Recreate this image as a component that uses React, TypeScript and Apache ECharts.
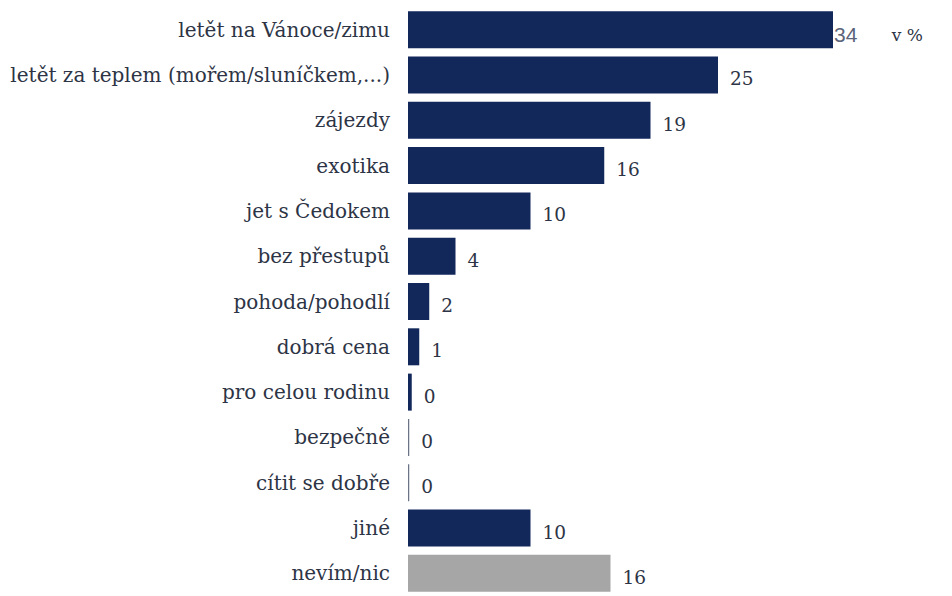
import React, { useEffect, useRef } from "react";
import * as echarts from "echarts";

const categories = [
  "letět na Vánoce/zimu",
  "letět za teplem (mořem/sluníčkem,...)",
  "zájezdy",
  "exotika",
  "jet s Čedokem",
  "bez přestupů",
  "pohoda/pohodlí",
  "dobrá cena",
  "pro celou rodinu",
  "bezpečně",
  "cítit se dobře",
  "jiné",
  "nevím/nic",
];
const values = [34, 24.8, 19.4, 15.7, 9.8, 3.8, 1.7, 0.9, 0.3, 0.1, 0.1, 9.8, 16.2];
const labels = ["34", "25", "19", "16", "10", "4", "2", "1", "0", "0", "0", "10", "16"];
const grayIndex = [12];
const unitLabel = "v %";

export default function App() {
  const ref = useRef<HTMLDivElement>(null);
  useEffect(() => {
    if (!ref.current) return;
    const chart = echarts.init(ref.current, undefined, { renderer: "svg" });
    const serif = "'DejaVu Serif', 'Liberation Serif', serif";
    const data = values.map((v, i) => {
      const item: any = {
        value: v,
        itemStyle: { color: grayIndex.includes(i) ? "#a6a6a6" : v < 0.2 ? "#6b7386" : "#12275a" },
      };
      if (i === 0) {
        item.label = {
          distance: 1,
          fontFamily: "'Liberation Sans', Arial, sans-serif",
          color: "#5b6479",
          fontSize: 21,
          offset: [0, 5],
        };
      }
      return item;
    });
    chart.setOption({
      animation: false,
      backgroundColor: "#ffffff",
      title: {
        text: unitLabel,
        right: 24,
        top: 21,
        textStyle: { fontFamily: serif, fontSize: 17, fontWeight: "normal", color: "#2d3445" },
      },
      grid: { left: 408, right: 44, top: 7, height: 596, containLabel: false },
      xAxis: {
        type: "value",
        min: 0,
        max: 40,
        show: false,
      },
      yAxis: {
        type: "category",
        data: categories,
        inverse: true,
        axisLine: { show: false },
        axisTick: { show: false },
        axisLabel: {
          margin: 18,
          fontFamily: serif,
          fontSize: 20,
          color: "#2d3445",
        },
      },
      series: [
        {
          type: "bar",
          data,
          barWidth: 37,
          label: {
            show: true,
            position: "right",
            distance: 12,
            fontFamily: serif,
            fontSize: 18.5,
            color: "#2d3445",
            offset: [0, 4],
            formatter: (p: any) => labels[p.dataIndex],
          },
        },
      ],
    });
    return () => chart.dispose();
  }, []);
  return (
    <div
      ref={ref}
      style={{ position: "absolute", left: 0, top: 0, width: 952, height: 596 }}
    />
  );
}
